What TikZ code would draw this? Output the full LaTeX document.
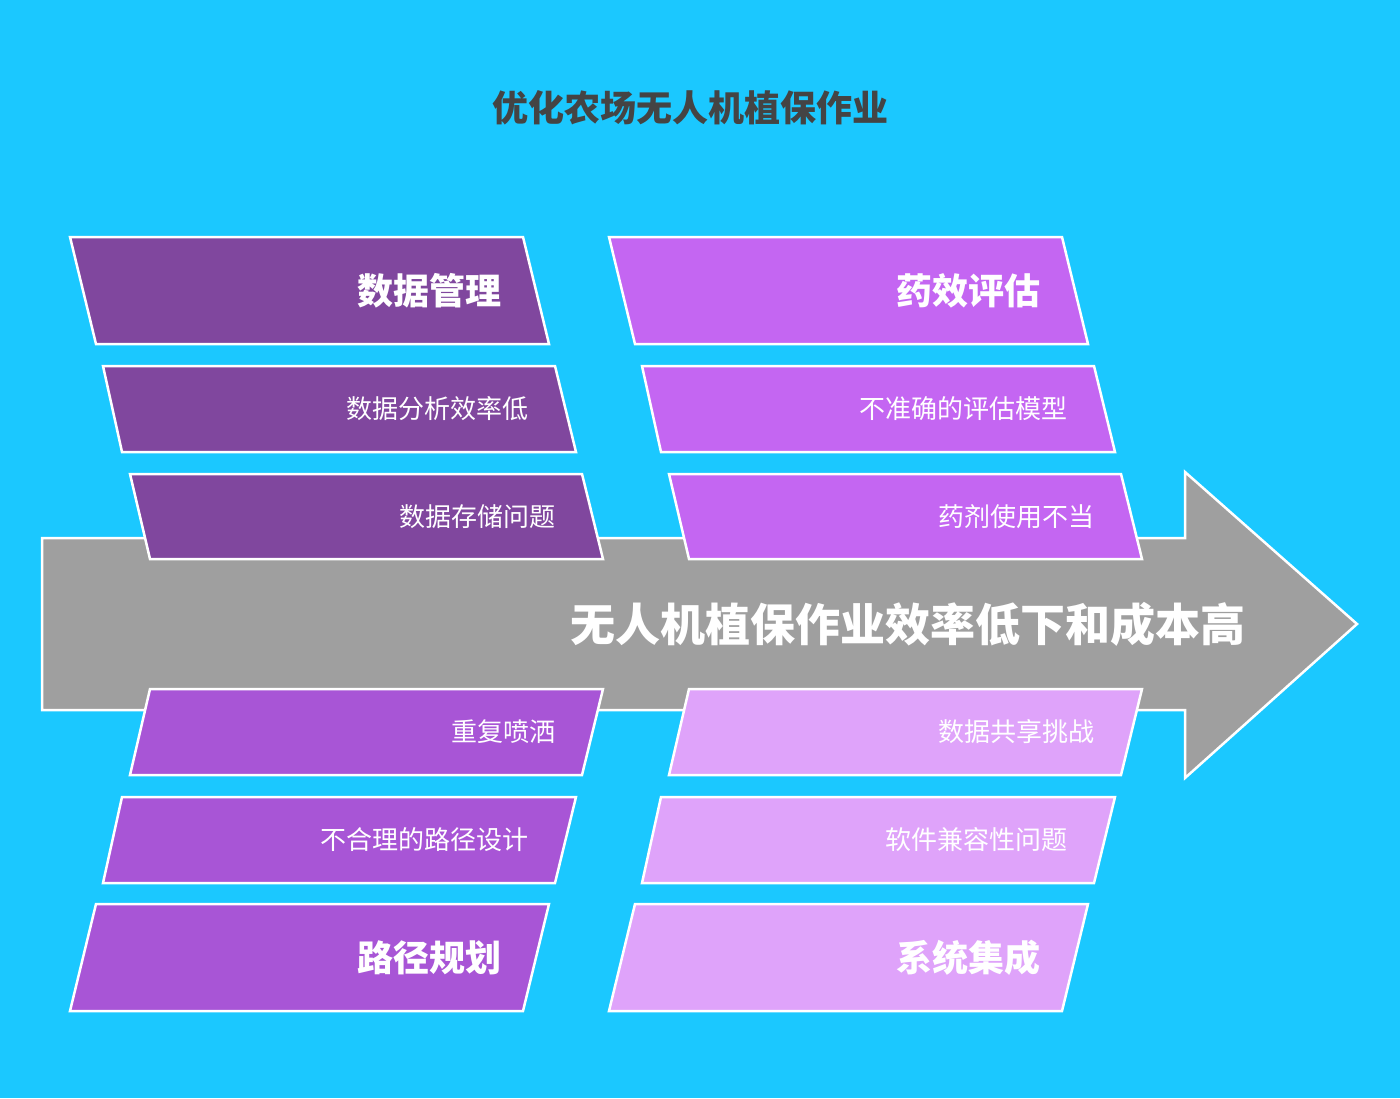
\documentclass[tikz,border=0pt]{standalone}
\usepackage{fontspec}
\setmainfont{Noto Sans CJK SC}
\definecolor{bg}{HTML}{1BC8FF}
\definecolor{dp}{HTML}{80479E}
\definecolor{rp}{HTML}{C466F2}
\definecolor{bp}{HTML}{A855D6}
\definecolor{lp}{HTML}{DFA3FA}
\definecolor{tg}{HTML}{444444}
\tikzset{pg/.style={draw=white,line width=2.5pt,line join=miter},
 big/.style={text=white,font=\fontsize{36}{40}\selectfont\bfseries,anchor=east,inner sep=0},
 sml/.style={text=white,font=\fontsize{26}{30}\selectfont,anchor=east,inner sep=0}}
% #1 name #2 top-left x #3 top y #4 bottom-left x #5 bottom y #6 width #7 color #8 text x #9 style+text
\newcommand{\pgram}[9]{%
 \fill[#7] (#2,#3)--++(#6,0)--(#4+#6,#5)--(#4,#5)--cycle;
 \draw[pg] (#2,#3)--++(#6,0)--(#4+#6,#5)--(#4,#5)--cycle;
 \node[#9] (#1) at (#8,{(#3+#5)/2}) {};}
\newcommand{\lbl}[5]{\node[#1] (#2) at (#3,#4) {#5};}
\begin{document}
\begin{tikzpicture}[x=1pt,y=-1pt]
\fill[bg] (0,0) rectangle (1400,1098);
\useasboundingbox (0,0) rectangle (1400,1098);
\node[text=tg,font=\fontsize{36}{40}\selectfont\bfseries] (title) at (690,108) {优化农场无人机植保作业};
\draw[fill=gray!75,draw=white,line width=2.5pt] (42,538)--(1185,538)--(1185,472)--(1357,624)--(1185,778)--(1185,710)--(42,710)--cycle;
\node[text=white,font=\fontsize{45}{50}\selectfont\bfseries] (main) at (908,624) {无人机植保作业效率低下和成本高};
% left column
\fill[dp,draw=white,line width=2.5pt] (70,237)--(523,237)--(549,344)--(96,344)--cycle;
\fill[dp,draw=white,line width=2.5pt] (103,366)--(555,366)--(576,452)--(122,452)--cycle;
\fill[dp,draw=white,line width=2.5pt] (130,474)--(582,474)--(603,559)--(150,559)--cycle;
\fill[bp,draw=white,line width=2.5pt] (150,689)--(603,689)--(582,775)--(130,775)--cycle;
\fill[bp,draw=white,line width=2.5pt] (122,797)--(576,797)--(555,883)--(103,883)--cycle;
\fill[bp,draw=white,line width=2.5pt] (96,904)--(549,904)--(523,1011)--(70,1011)--cycle;
% right column
\fill[rp,draw=white,line width=2.5pt] (609,237)--(1062,237)--(1088,344)--(635,344)--cycle;
\fill[rp,draw=white,line width=2.5pt] (642,366)--(1094,366)--(1115,452)--(661,452)--cycle;
\fill[rp,draw=white,line width=2.5pt] (669,474)--(1121,474)--(1142,559)--(689,559)--cycle;
\fill[lp,draw=white,line width=2.5pt] (689,689)--(1142,689)--(1121,775)--(669,775)--cycle;
\fill[lp,draw=white,line width=2.5pt] (661,797)--(1115,797)--(1094,883)--(642,883)--cycle;
\fill[lp,draw=white,line width=2.5pt] (635,904)--(1088,904)--(1062,1011)--(609,1011)--cycle;
% labels
\lbl{big}{l1}{502}{291}{数据管理}
\lbl{sml}{l2}{529}{409}{数据分析效率低}
\lbl{sml}{l3}{556}{517}{数据存储问题}
\lbl{sml}{l4}{556}{732}{重复喷洒}
\lbl{sml}{l5}{529}{840}{不合理的路径设计}
\lbl{big}{l6}{502}{958}{路径规划}
\lbl{big}{r1}{1041}{291}{药效评估}
\lbl{sml}{r2}{1068}{409}{不准确的评估模型}
\lbl{sml}{r3}{1095}{517}{药剂使用不当}
\lbl{sml}{r4}{1095}{732}{数据共享挑战}
\lbl{sml}{r5}{1068}{840}{软件兼容性问题}
\lbl{big}{r6}{1041}{958}{系统集成}
\end{tikzpicture}
\end{document}
